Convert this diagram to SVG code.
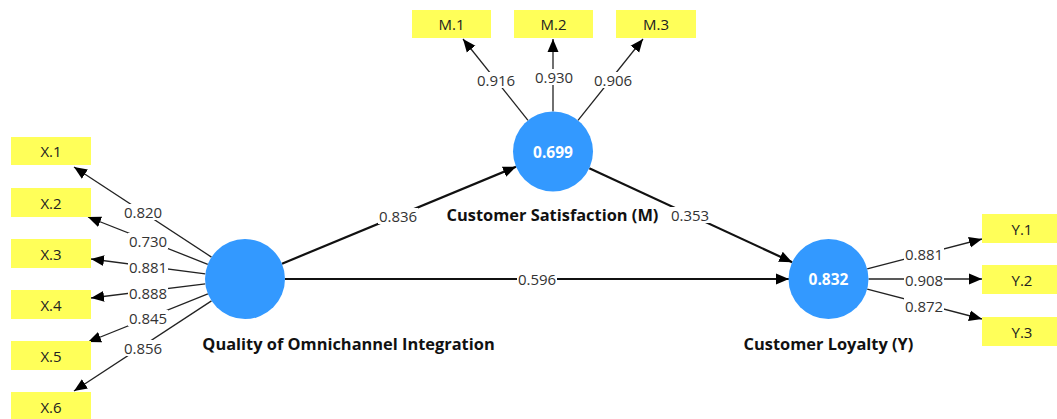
<svg xmlns="http://www.w3.org/2000/svg" width="1057" height="419" viewBox="0 0 1057 419">
<defs>
<marker id="ah" markerUnits="userSpaceOnUse" markerWidth="14" markerHeight="12" refX="13" refY="6" orient="auto"><path d="M0,0.5 L13,6 L0,11.5 z" fill="#000"/></marker>
<style>
.ind{fill:#FFFF59}
.lv{fill:#3399FF}
.it{font-family:"Open Sans","Noto Sans",sans-serif;font-size:15px;fill:#222;text-anchor:middle;dominant-baseline:central}
.lt{font-family:"Open Sans","Noto Sans",sans-serif;font-size:16.4px;font-weight:bold;fill:#111;text-anchor:middle}
.rt{font-family:"Open Sans","Noto Sans",sans-serif;font-size:15.5px;font-weight:bold;fill:#fff;text-anchor:middle;dominant-baseline:central}
.ld{stroke:#222;stroke-width:1.3;fill:none;marker-end:url(#ah)}
.sp{stroke:#111;stroke-width:2.2;fill:none;marker-end:url(#ah)}
.bg{fill:#fff}
.wl{font-family:"Open Sans","Noto Sans",sans-serif;font-size:15px;fill:#333;text-anchor:middle;dominant-baseline:central}
</style>
</defs>
<rect width="1057" height="419" fill="#fff"/>
<g id="connectors">
<line class="ld" x1="211.5" y1="257.1" x2="74" y2="167"/>
<line class="ld" x1="207.8" y1="264.3" x2="88" y2="217"/>
<line class="ld" x1="205.3" y1="273.8" x2="91" y2="259"/>
<line class="ld" x1="205.3" y1="283.9" x2="91" y2="298"/>
<line class="ld" x1="207.9" y1="293.9" x2="88" y2="342"/>
<line class="ld" x1="211.5" y1="300.9" x2="74" y2="391"/>
<line class="ld" x1="528" y1="120.3" x2="463" y2="39"/>
<line class="ld" x1="553" y1="111.5" x2="553" y2="39"/>
<line class="ld" x1="578" y1="120.3" x2="643" y2="39"/>
<line class="ld" x1="867.2" y1="268.9" x2="982" y2="239"/>
<line class="ld" x1="868.5" y1="279" x2="982" y2="279"/>
<line class="ld" x1="867.2" y1="289.1" x2="982" y2="319"/>
<line class="sp" x1="282" y1="263.7" x2="516" y2="166.8"/>
<line class="sp" x1="589.3" y1="168.3" x2="792.2" y2="262.2"/>
<line class="sp" x1="285" y1="279" x2="789" y2="279"/>
<rect class="bg" x="123" y="204" width="40" height="16"/>
<rect class="bg" x="128" y="233" width="40" height="16"/>
<rect class="bg" x="128" y="259" width="40" height="16"/>
<rect class="bg" x="128" y="285" width="40" height="16"/>
<rect class="bg" x="128" y="310" width="40" height="16"/>
<rect class="bg" x="123" y="340" width="40" height="16"/>
<rect class="bg" x="476" y="72" width="40" height="16"/>
<rect class="bg" x="534" y="69" width="40" height="16"/>
<rect class="bg" x="593" y="72" width="40" height="16"/>
<rect class="bg" x="904" y="246" width="40" height="16"/>
<rect class="bg" x="904" y="272" width="40" height="16"/>
<rect class="bg" x="904" y="298" width="40" height="16"/>
<rect class="bg" x="378" y="208" width="40" height="16"/>
<rect class="bg" x="670" y="207" width="40" height="16"/>
<rect class="bg" x="517" y="271" width="40" height="16"/>
<text class="wl" x="143" y="212">0.820</text>
<text class="wl" x="148" y="241">0.730</text>
<text class="wl" x="148" y="267">0.881</text>
<text class="wl" x="148" y="293">0.888</text>
<text class="wl" x="148" y="318">0.845</text>
<text class="wl" x="143" y="348">0.856</text>
<text class="wl" x="496" y="80">0.916</text>
<text class="wl" x="554" y="77">0.930</text>
<text class="wl" x="613" y="80">0.906</text>
<text class="wl" x="924" y="254">0.881</text>
<text class="wl" x="924" y="280">0.908</text>
<text class="wl" x="924" y="306">0.872</text>
<text class="wl" x="398" y="216">0.836</text>
<text class="wl" x="690" y="215">0.353</text>
<text class="wl" x="537" y="279">0.596</text>
</g>
<g id="X1"><rect class="ind" x="11" y="137" width="80" height="28"/><text class="it" x="51" y="151">X.1</text></g>
<g id="X2"><rect class="ind" x="11" y="188" width="80" height="29"/><text class="it" x="51" y="202.5">X.2</text></g>
<g id="X3"><rect class="ind" x="11" y="239" width="80" height="29"/><text class="it" x="51" y="253.5">X.3</text></g>
<g id="X4"><rect class="ind" x="11" y="290" width="80" height="29"/><text class="it" x="51" y="304.5">X.4</text></g>
<g id="X5"><rect class="ind" x="11" y="341" width="80" height="29"/><text class="it" x="51" y="355.5">X.5</text></g>
<g id="X6"><rect class="ind" x="11" y="392" width="80" height="29"/><text class="it" x="51" y="406.5">X.6</text></g>
<g id="M1"><rect class="ind" x="412" y="10" width="79" height="28"/><text class="it" x="451.5" y="24">M.1</text></g>
<g id="M2"><rect class="ind" x="514" y="10" width="79" height="28"/><text class="it" x="553.5" y="24">M.2</text></g>
<g id="M3"><rect class="ind" x="616" y="10" width="80" height="28"/><text class="it" x="656" y="24">M.3</text></g>
<g id="Y1"><rect class="ind" x="982" y="214" width="80" height="29"/><text class="it" x="1022" y="228.5">Y.1</text></g>
<g id="Y2"><rect class="ind" x="982" y="265" width="80" height="29"/><text class="it" x="1022" y="279.5">Y.2</text></g>
<g id="Y3"><rect class="ind" x="982" y="317" width="80" height="29"/><text class="it" x="1022" y="331.5">Y.3</text></g>
<g id="Q"><circle class="lv" cx="245" cy="279" r="40"/><text class="lt" x="348.5" y="350">Quality of Omnichannel Integration</text></g>
<g id="M"><circle class="lv" cx="553" cy="151.5" r="40"/><text class="rt" x="553" y="151.5">0.699</text><text class="lt" x="552.5" y="221">Customer Satisfaction (M)</text></g>
<g id="Y"><circle class="lv" cx="828.5" cy="279" r="40"/><text class="rt" x="828.5" y="279">0.832</text><text class="lt" x="828.5" y="350">Customer Loyalty (Y)</text></g>
</svg>
